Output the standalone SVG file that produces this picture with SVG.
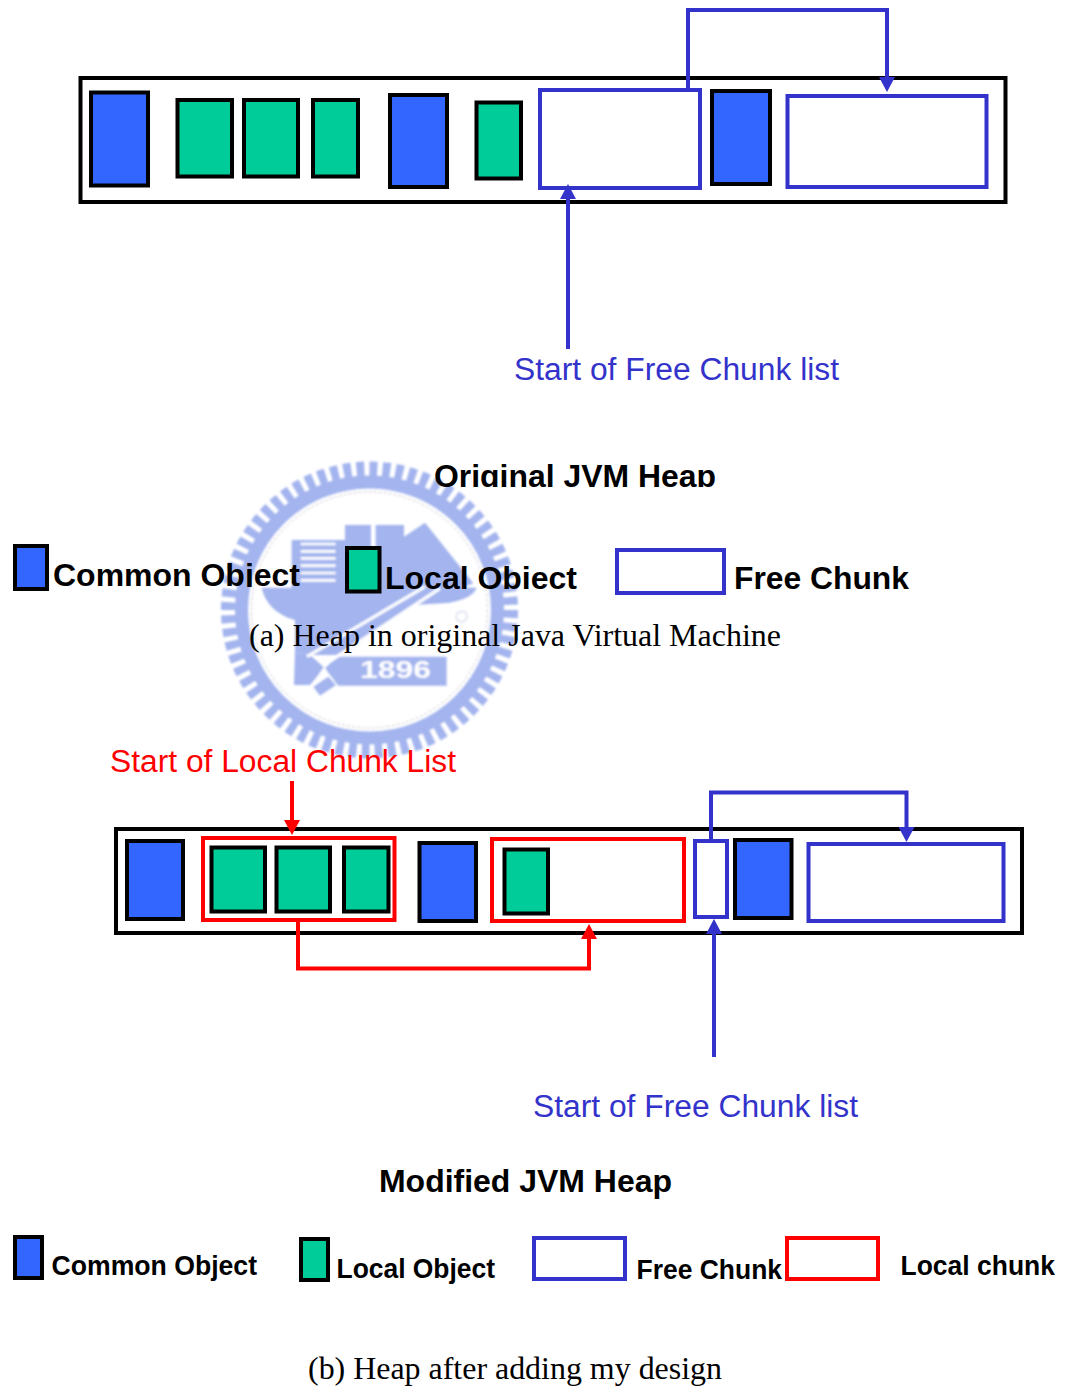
<svg xmlns="http://www.w3.org/2000/svg" width="1078" height="1387" viewBox="0 0 1078 1387">
<style>
text{font-family:"Liberation Sans",Arial,sans-serif}
.b{font-weight:bold;fill:#000}
.cap{font-family:"Liberation Serif","Times New Roman",serif;fill:#000}
.frame{fill:#fff;stroke:#000;stroke-width:4}
.common{fill:#36f;stroke:#000;stroke-width:4}
.local{fill:#0c9;stroke:#000;stroke-width:4}
.free{fill:#fff;stroke:#33c;stroke-width:4}
.lchunk{fill:#fff;stroke:#f00;stroke-width:4}
.wm{fill:#a3b4ee}
.wl{fill:none;stroke:#fff;stroke-width:10}
.bl{fill:none;stroke:#33c;stroke-width:4}
.rd{fill:none;stroke:#f00;stroke-width:4}
</style>
<defs>
<clipPath id="clipTitle"><rect x="420" y="450" width="320" height="37"/></clipPath>
<clipPath id="clipObjA"><rect x="50" y="550" width="260" height="37"/></clipPath>
<clipPath id="clipObjB"><rect x="384" y="555" width="200" height="34"/></clipPath>
<filter id="soft" x="-5%" y="-5%" width="110%" height="110%"><feGaussianBlur stdDeviation="0.8"/></filter>
</defs>
<rect width="1078" height="1387" fill="#fff"/>
<g id="watermark" filter="url(#soft)">
<circle cx="369.5" cy="610" r="141" fill="none" stroke="#a3b4ee" stroke-width="15" pathLength="136" stroke-dasharray="1.2 .8"/>
<circle cx="369.5" cy="610" r="128" fill="none" stroke="#a3b4ee" stroke-width="13"/>
<circle cx="369.5" cy="610" r="118" fill="none" stroke="#c9c9d2" stroke-width="1" stroke-dasharray="3 2"/>
<g transform="translate(210 455) scale(.3333)">
<rect class="wm" x="245" y="255" width="160" height="145"/>
<path fill="#fff" d="M272 263h105v8H272zM272 285h105v8H272zM272 306h105v8H272zM272 328h105v8H272zM272 350h105v8H272zM272 372h105v8H272z"/>
<rect class="wm" x="405" y="210" width="78" height="190"/>
<rect class="wm" x="497" y="210" width="85" height="190"/>
<path class="wm" d="M582 245L645 203L790 385L700 420H582Z"/>
<path class="wm" d="M155 398H800C790 425 750 440 700 445L610 450L400 600H300L255 590V495C200 480 165 445 155 398Z"/>
<path class="wm" d="M255 590L300 600L345 640L300 690H252Z"/>
<path class="wm" d="M380 605H710V692H385L345 640Z"/>
<path class="wm" d="M330 722L310 695L355 665L378 690Z"/>
<path class="wl" d="M291 605L645 395"/>
<path class="wl" d="M340 632L690 400"/>
<path class="wl" d="M345 640L310 690"/>
<circle cx="755" cy="485" r="16" fill="none" stroke="#dde1f0" stroke-width="5"/>
</g>
<text x="360" y="678" font-size="24" font-weight="bold" fill="#fff" textLength="71" lengthAdjust="spacingAndGlyphs">1896</text>
</g>
<g id="heap-a">
<rect class="frame" x="80.500" y="78" width="925" height="124"/>
<rect class="common" x="91" y="92.500" width="57" height="93"/>
<rect class="local" x="177.500" y="100" width="54.500" height="76.500"/>
<rect class="local" x="244" y="100" width="54" height="76.500"/>
<rect class="local" x="313" y="100" width="45" height="76.500"/>
<rect class="common" x="390" y="95" width="57" height="92"/>
<rect class="local" x="476.500" y="102.500" width="44.500" height="76"/>
<rect class="free" x="540" y="90" width="160" height="98"/>
<rect class="common" x="712" y="91" width="58" height="93"/>
<rect class="free" x="787.500" y="96" width="199" height="91"/>
</g>
<g id="heap-b">
<rect class="frame" x="116" y="829" width="906" height="104"/>
<rect class="common" x="127" y="841" width="56" height="78"/>
<rect class="lchunk" x="203" y="838" width="191.500" height="82"/>
<rect class="local" x="211.500" y="847.500" width="53.500" height="64"/>
<rect class="local" x="276.500" y="847.500" width="53.500" height="64"/>
<rect class="local" x="344" y="847.500" width="44.500" height="64"/>
<rect class="common" x="419.500" y="843" width="56.500" height="78"/>
<rect class="lchunk" x="492" y="839" width="192" height="82"/>
<rect class="local" x="504.500" y="849.500" width="43.500" height="64"/>
<rect class="free" x="695" y="841" width="32" height="76"/>
<rect class="common" x="735" y="840" width="56.500" height="78"/>
<rect class="free" x="808.500" y="844" width="195" height="77"/>
</g>
<g id="connectors">
<path class="bl" d="M688 88V10H887V80"/>
<path fill="#33c" d="M879 77H895L887 92Z"/>
<path class="bl" d="M568 349V196"/>
<path fill="#33c" d="M560 199H576L568 184Z"/>
<path class="rd" d="M292 781V822"/>
<path fill="#f00" d="M284 820H300L292 835Z"/>
<path class="rd" d="M298 922V968.500H589V936"/>
<path fill="#f00" d="M581 939H597L589 924Z"/>
<path class="bl" d="M711 839V792.500H906.500V830"/>
<path fill="#33c" d="M898.500 827H914.500L906.500 842Z"/>
<path class="bl" d="M714 1057V932"/>
<path fill="#33c" d="M706 934H722L714 919Z"/>
</g>
<g id="label-free-a"><text x="514" y="380" font-size="31" fill="#33c" textLength="325" lengthAdjust="spacingAndGlyphs">Start of Free Chunk list</text></g>
<g id="title-a"><text class="b" x="434" y="487" font-size="31" textLength="282" lengthAdjust="spacingAndGlyphs" clip-path="url(#clipTitle)">Original JVM Heap</text></g>
<g id="legend-a-common"><rect class="common" x="15" y="546" width="32" height="43"/><text class="b" x="53" y="586" font-size="31" textLength="247" lengthAdjust="spacingAndGlyphs" clip-path="url(#clipObjA)">Common Object</text></g>
<g id="legend-a-local"><rect class="local" x="347" y="548" width="32.500" height="43.500"/><text class="b" x="385" y="589" font-size="31" textLength="192" lengthAdjust="spacingAndGlyphs" clip-path="url(#clipObjB)">Local Object</text></g>
<g id="legend-a-free"><rect class="free" x="617" y="550" width="107" height="43"/><text class="b" x="734" y="589" font-size="31" textLength="175" lengthAdjust="spacingAndGlyphs">Free Chunk</text></g>
<g id="caption-a"><text class="cap" x="249" y="646" font-size="31" textLength="532" lengthAdjust="spacingAndGlyphs">(a) Heap in original Java Virtual Machine</text></g>
<g id="label-local"><text x="110" y="772" font-size="31" fill="#f00" textLength="346" lengthAdjust="spacingAndGlyphs">Start of Local Chunk List</text></g>
<g id="label-free-b"><text x="533" y="1117" font-size="31" fill="#33c" textLength="325" lengthAdjust="spacingAndGlyphs">Start of Free Chunk list</text></g>
<g id="title-b"><text class="b" x="379" y="1192" font-size="31" textLength="293" lengthAdjust="spacingAndGlyphs">Modified JVM Heap</text></g>
<g id="legend-b-common"><rect class="common" x="15" y="1237" width="27" height="41"/><text class="b" x="51.500" y="1275" font-size="27" textLength="205.500" lengthAdjust="spacingAndGlyphs">Common Object</text></g>
<g id="legend-b-local"><rect class="local" x="301" y="1239" width="27" height="41"/><text class="b" x="336.500" y="1277.500" font-size="27" textLength="158.500" lengthAdjust="spacingAndGlyphs">Local Object</text></g>
<g id="legend-b-free"><rect class="free" x="534" y="1238" width="91" height="41"/><text class="b" x="636.500" y="1278.500" font-size="27" textLength="145.500" lengthAdjust="spacingAndGlyphs">Free Chunk</text></g>
<g id="legend-b-lchunk"><rect class="lchunk" x="787" y="1238" width="91" height="41"/><text class="b" x="900.500" y="1275" font-size="27" textLength="154.500" lengthAdjust="spacingAndGlyphs">Local chunk</text></g>
<g id="caption-b"><text class="cap" x="308" y="1379" font-size="31" textLength="414" lengthAdjust="spacingAndGlyphs">(b) Heap after adding my design</text></g>
</svg>
